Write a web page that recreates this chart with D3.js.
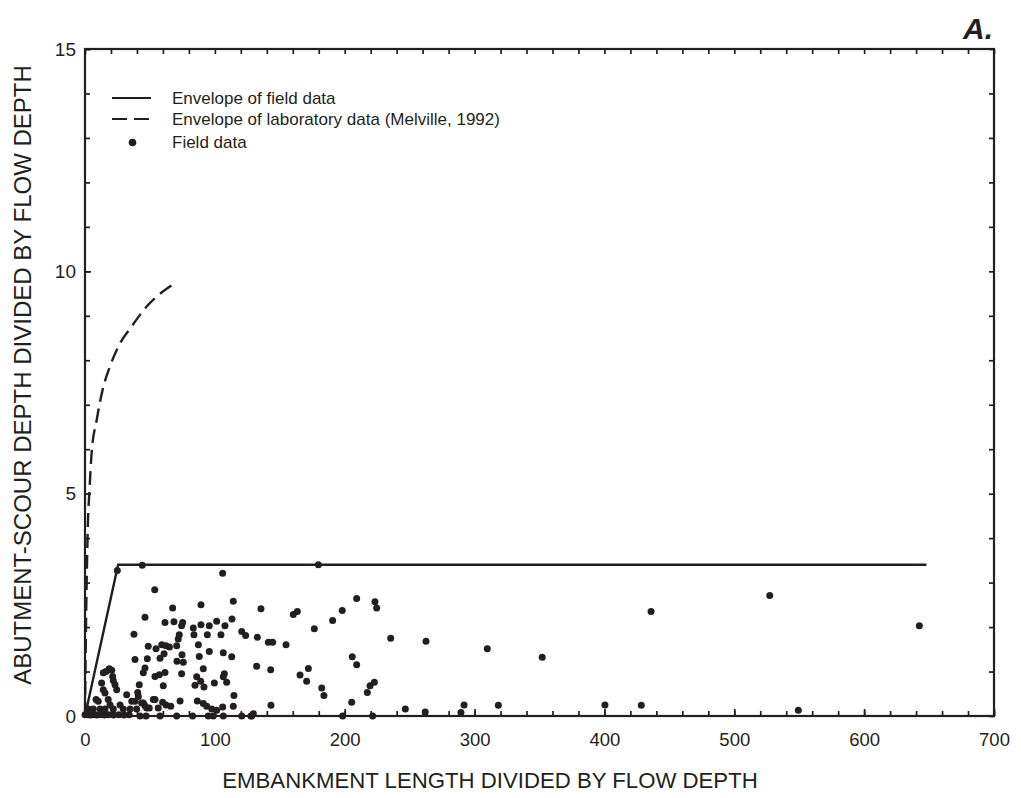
<!DOCTYPE html>
<html>
<head>
<meta charset="utf-8">
<script src="https://cdn.jsdelivr.net/npm/d3@7"></script>
<style>
  html, body { margin: 0; padding: 0; background: #fff; }
  svg text { font-family: "Liberation Sans", Arial, Helvetica, sans-serif; fill: #231f20; }
</style>
</head>
<body>
<svg id="chart" width="1021" height="798"></svg>
<script>
// ---- data ----
const xMajorTicks = [0, 100, 200, 300, 400, 500, 600, 700];
const yMajorTicks = [0, 5, 10, 15];
const xTitle = "EMBANKMENT LENGTH DIVIDED BY FLOW DEPTH";
const yTitle = "ABUTMENT-SCOUR DEPTH DIVIDED BY FLOW DEPTH";
const panelLabel = "A.";
const legendLabels = ["Envelope of field data", "Envelope of laboratory data (Melville, 1992)", "Field data"];

// envelope of field data (x, y)
const fieldEnvX = [0, 25.5, 648];
const fieldEnvY = [0, 3.4, 3.4];

// envelope of laboratory data (Melville, 1992)
const labEnvX = [0, 0.5, 1.0, 1.6, 2.3, 3.3, 5.1, 9.0, 13.6, 19.2, 25.7, 35.9, 47.5, 67.5];
const labEnvY = [0, 1.4, 2.5, 3.5, 4.4, 5.0, 5.92, 6.66, 7.34, 7.86, 8.31, 8.76, 9.21, 9.70];

// field data points
const fieldX = [
  24.9, 44.1, 106, 179.7,
  53.7, 89.3, 114.2, 67.5, 46.2, 113.2,
  61.6, 68.5, 75.2, 74.4,
  83.4, 89.3, 95.7, 101.4, 107.8,
  37.7, 72.6, 71.8, 70.6, 83.9, 94.2, 104.7,
  120.7, 123.7, 132.7,
  48.7, 54.7, 59.1, 62.4, 65, 87.3,
  57.8, 60.9, 74.7, 70.8, 75.7, 88, 95.7, 106.5, 113,
  38.5, 48, 132.2,
  46.2, 44.9, 53.9, 57.2, 61.6, 74.4, 91.1,
  86, 84.7, 107.3, 106.5, 99.6, 91.6, 60.3, 41.8,
  40.6, 41.1, 114.7, 114.2, 32.1, 38.5, 44.9, 46.2,
  53.9, 59.8, 62.4, 73.2, 66, 86.5,
  91.1, 93.7, 97.6, 101.4, 106, 49.5, 129.6,
  42.4, 47, 57.8, 70.6, 82.9, 94.9, 106.5, 120.7, 128.4,
  18.7, 20.6, 16.2, 21.3, 21.8, 23.1, 24.4, 14.1, 12.8, 14.1, 15.4, 8.5, 10.2, 17.9, 19.3, 36, 27, 43.6, 52.6, 47.5, 56.4,
  2.5, 6.4, 11.6, 15.4, 21.8, 29.5, 34.7, 39.8,
  0, 2, 4, 6, 9, 12, 15, 18, 22, 26, 30, 34,
  135.5, 160.4, 163.5, 176.6, 190.7, 198.1, 209.2, 223.3, 224.6,
  141.2, 144.5, 154.8,
  143, 165.6, 170.7, 172, 205.8, 209.2,
  182.3, 184, 205.4, 217.4, 219.5, 222.8, 143.2,
  89.1, 109.1,
  98.8, 127.8, 198.4, 221.5,
  235.4, 262.6, 309.8, 352.1, 435.9, 246.7, 262, 291.9, 289.5, 318.3, 400.4, 428.4,
  527.3, 642.5, 549.3
];
const fieldY = [
  3.27, 3.39, 3.21, 3.40,
  2.84, 2.50, 2.58, 2.43, 2.22, 2.18,
  2.10, 2.12, 2.10, 2.03,
  1.98, 2.05, 2.03, 2.13, 2.03,
  1.84, 1.83, 1.73, 1.58, 1.83, 1.83, 1.83,
  1.90, 1.81, 1.77,
  1.57, 1.51, 1.60, 1.58, 1.55, 1.60,
  1.30, 1.40, 1.38, 1.23, 1.21, 1.34, 1.45, 1.42, 1.33,
  1.27, 1.29, 1.12,
  1.08, 0.97, 0.89, 0.93, 0.98, 0.95, 1.06,
  0.88, 0.69, 0.95, 0.88, 0.74, 0.65, 0.68, 0.70,
  0.53, 0.44, 0.46, 0.22, 0.48, 0.33, 0.29, 0.23,
  0.37, 0.31, 0.25, 0.34, 0.22, 0.34,
  0.28, 0.22, 0.16, 0.13, 0.20, 0.18, 0.05,
  0, 0, 0, 0, 0, 0, 0, 0, 0,
  1.06, 1.03, 1.00, 0.89, 0.80, 0.70, 0.59, 0.97, 0.74, 0.59, 0.52, 0.37, 0.33, 0.37, 0.25, 0.33, 0.25, 0.29, 0.37, 0.18, 0.18,
  0.16, 0.16, 0.16, 0.16, 0.16, 0.16, 0.16, 0.16,
  0.03, 0.03, 0.02, 0.03, 0.02, 0.03, 0.02, 0.03, 0.02, 0.03, 0.02, 0.03,
  2.41, 2.28, 2.35, 1.96, 2.15, 2.37, 2.64, 2.57, 2.43,
  1.66, 1.66, 1.60,
  1.04, 0.92, 0.78, 1.07, 1.33, 1.15,
  0.63, 0.46, 0.31, 0.53, 0.68, 0.76, 0.24,
  0.78, 0.76,
  0, 0, 0, 0,
  1.75, 1.68, 1.51, 1.32, 2.35, 0.16, 0.09, 0.25, 0.08, 0.24, 0.25, 0.24,
  2.71, 2.03, 0.13
];

// ---- drawing ----
const svg = d3.select("#chart");
const ink = "#231f20";
const x = d3.scaleLinear().domain([0, 700]).range([85, 994]);
const y = d3.scaleLinear().domain([0, 15]).range([716, 49]);

const xMinor = d3.range(0, 701, 20);
const yMinor = d3.range(0, 16, 1);

// frame
svg.append("rect")
  .attr("x", x(0)).attr("y", y(15))
  .attr("width", x(700) - x(0)).attr("height", y(0) - y(15))
  .attr("fill", "none").attr("stroke", ink).attr("stroke-width", 2.2);

function styleAxis(g) {
  g.select(".domain").remove();
  g.selectAll(".tick line").attr("stroke", ink).attr("stroke-width", 1.7);
}

// bottom minor + major
svg.append("g").attr("transform", `translate(0,${y(0)})`)
  .call(d3.axisBottom(x).tickValues(xMinor).tickSize(-5).tickFormat(""))
  .call(styleAxis);
svg.append("g").attr("transform", `translate(0,${y(0)})`)
  .call(d3.axisBottom(x).tickValues(xMajorTicks).tickSize(-7).tickPadding(17).tickFormat(d3.format("d")))
  .call(styleAxis)
  .call(g => g.selectAll("text").attr("font-size", 18.5).attr("fill", ink)
        .attr("font-family", '"Liberation Sans", Arial, sans-serif'));
// top
svg.append("g").attr("transform", `translate(0,${y(15)})`)
  .call(d3.axisTop(x).tickValues(xMinor).tickSize(-5).tickFormat(""))
  .call(styleAxis);
// left
svg.append("g").attr("transform", `translate(${x(0)},0)`)
  .call(d3.axisLeft(y).tickValues(yMinor).tickSize(-5).tickFormat(""))
  .call(styleAxis);
svg.append("g").attr("transform", `translate(${x(0)},0)`)
  .call(d3.axisLeft(y).tickValues(yMajorTicks).tickSize(-6).tickPadding(9).tickFormat(d3.format("d")))
  .call(styleAxis)
  .call(g => g.selectAll("text").attr("font-size", 19).attr("fill", ink)
        .attr("font-family", '"Liberation Sans", Arial, sans-serif'));
// right
svg.append("g").attr("transform", `translate(${x(700)},0)`)
  .call(d3.axisRight(y).tickValues(yMinor).tickSize(-5).tickFormat(""))
  .call(styleAxis);

// envelopes
const line = d3.line().x(d => x(d[0])).y(d => y(d[1]));
svg.append("path")
  .datum(fieldEnvX.map((v, i) => [v, fieldEnvY[i]]))
  .attr("d", line).attr("fill", "none").attr("stroke", ink).attr("stroke-width", 2.4);

const curve = d3.line().x(d => x(d[0])).y(d => y(d[1])).curve(d3.curveMonotoneX);
svg.append("path")
  .datum(labEnvX.map((v, i) => [v, labEnvY[i]]))
  .attr("d", curve).attr("fill", "none").attr("stroke", ink).attr("stroke-width", 2.4)
  .attr("stroke-dasharray", "14,7");

// points
svg.append("g").selectAll("circle")
  .data(fieldX.map((v, i) => [v, fieldY[i]]))
  .join("circle")
  .attr("cx", d => x(d[0])).attr("cy", d => y(d[1]))
  .attr("r", 3.5).attr("fill", ink);

// legend
const lg = svg.append("g");
lg.append("line").attr("x1", 112).attr("x2", 151).attr("y1", 98).attr("y2", 98)
  .attr("stroke", ink).attr("stroke-width", 2.2);
lg.append("line").attr("x1", 112).attr("x2", 151).attr("y1", 119).attr("y2", 119)
  .attr("stroke", ink).attr("stroke-width", 2.2).attr("stroke-dasharray", "15,7");
lg.append("circle").attr("cx", 132.5).attr("cy", 142.5).attr("r", 3.8).attr("fill", ink);
legendLabels.forEach((t, i) => {
  lg.append("text").attr("x", 172).attr("y", [98, 119, 142.5][i])
    .attr("dy", "0.35em").attr("font-size", 17).text(t);
});

// titles
svg.append("text").attr("x", 490).attr("y", 788)
  .attr("text-anchor", "middle").attr("font-size", 22.2).text(xTitle);
svg.append("text").attr("transform", `translate(31,375) rotate(-90)`)
  .attr("text-anchor", "middle").attr("font-size", 24).text(yTitle);
svg.append("text").attr("x", 993).attr("y", 39).attr("text-anchor", "end")
  .attr("font-size", 30).attr("font-weight", "bold").attr("font-style", "italic").text(panelLabel);
</script>
</body>
</html>
